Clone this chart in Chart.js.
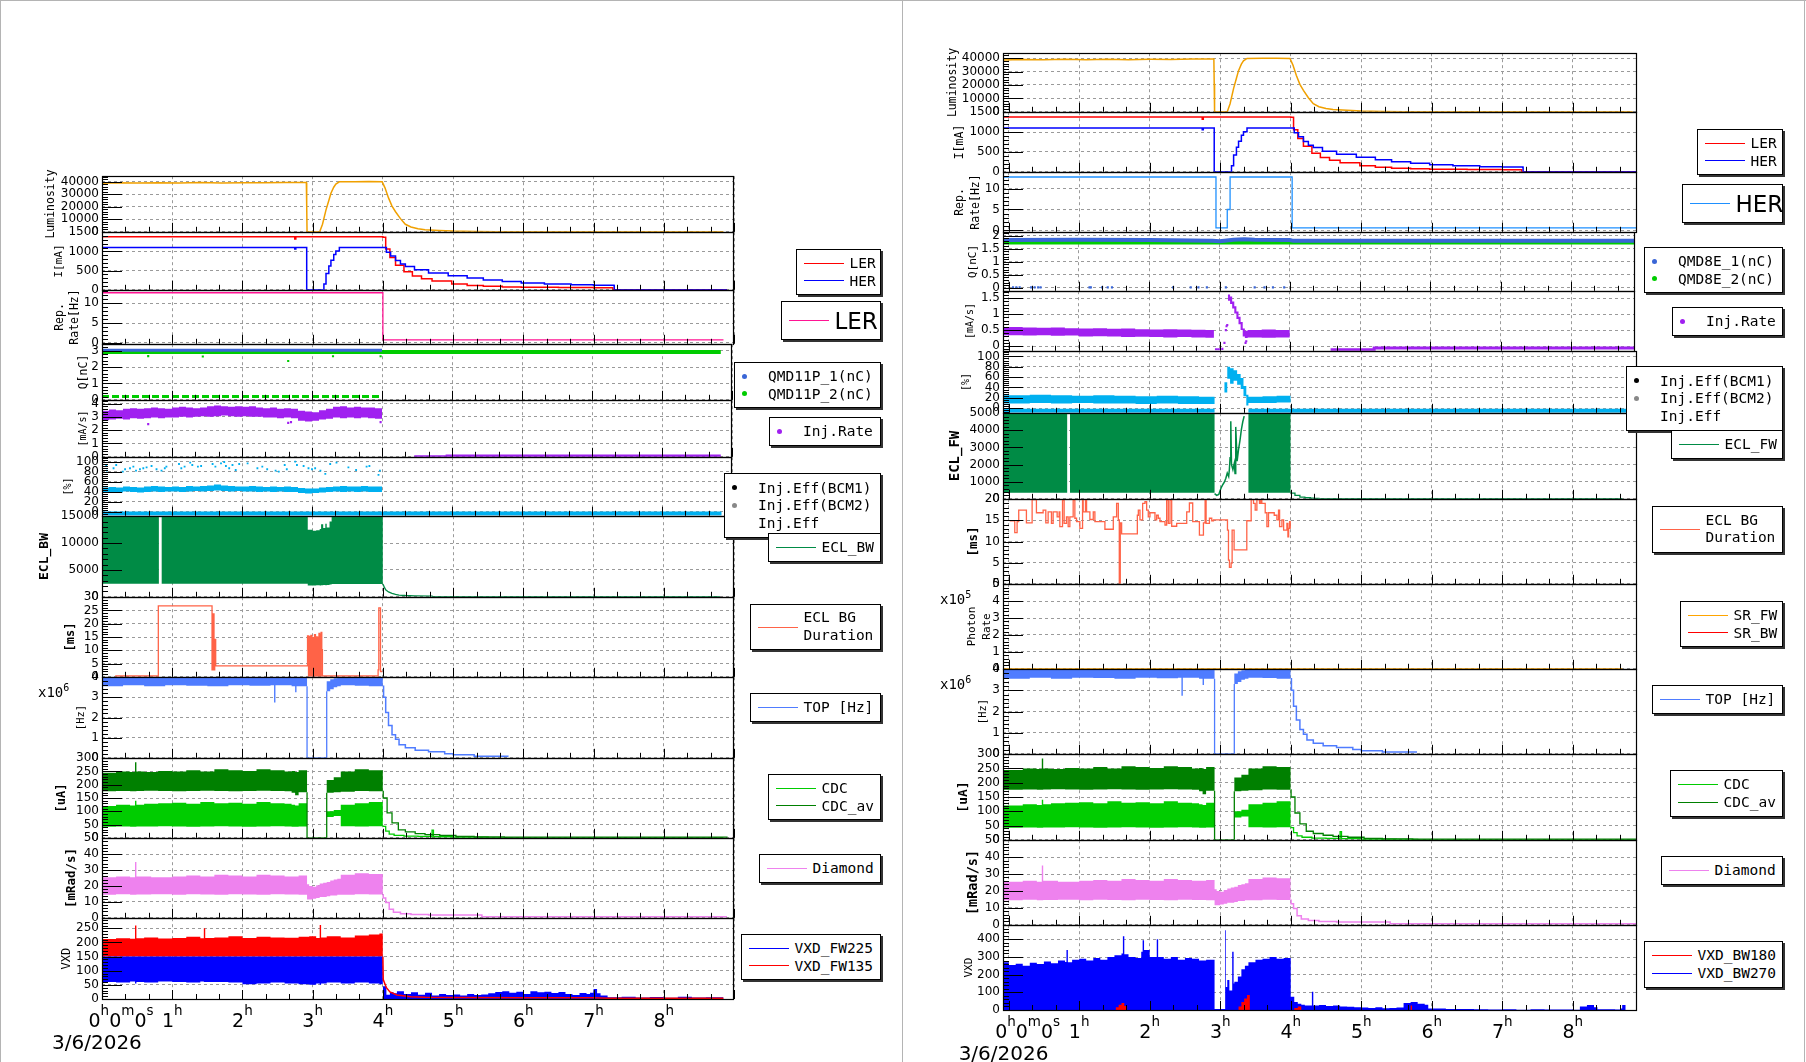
<!DOCTYPE html>
<html>
<head>
<meta charset="utf-8">
<title>LER / HER injection background</title>
<script src="https://cdn.jsdelivr.net/npm/chart.js@4.4.1/dist/chart.umd.min.js"></script>
<style>
  html, body { margin: 0; padding: 0; background: #fff; }
  body { position: relative; width: 1806px; height: 1062px; overflow: hidden; font-family: "DejaVu Sans Mono", monospace; }
  canvas { position: absolute; }
  .lg { position: absolute; box-sizing: border-box; background: #fff; border: 1px solid #000; box-shadow: 2px 2px 0 #333;
        padding: 0 7px; display: flex; flex-direction: column; justify-content: center; font-size: 14.5px; color: #000; z-index: 5; }
  .row { display: flex; align-items: center; justify-content: flex-start; height: 17.7px; white-space: pre; }
  .smp { display: inline-block; flex: none; width: 40px; height: 0; border-top: 1.3px solid; }
  .dot { display: inline-block; flex: none; width: 5px; height: 5px; border-radius: 50%; }
  .mult { position: absolute; font-size: 14px; line-height: 14px; z-index: 5; }
  .mult sup { font-size: 10px; vertical-align: 6px; line-height: 0; }
  .sep { position: absolute; background: #b4b4b4; }
</style>
</head>
<body>
<div class="sep" style="left:0;top:0;width:1806px;height:1px"></div>
<div class="sep" style="left:0;top:0;width:1px;height:1062px"></div>
<div class="sep" style="left:902px;top:0;width:1px;height:1062px"></div>
<div class="sep" style="left:1804px;top:0;width:1px;height:1062px"></div>
<div class="mult" style="left:38px;top:685px">x10<sup>6</sup></div>
<div class="mult" style="left:940px;top:677px">x10<sup>6</sup></div>
<div class="mult" style="left:940px;top:592px">x10<sup>5</sup></div>
<script>
// ---------- axis labels ----------
const hourTicks = [0, 1, 2, 3, 4, 5, 6, 7, 8];
const firstTick = [['0', 'h'], ['0', 'm'], ['0', 's']];
const dateLabel = '3/6/2026';

// common 6-minute grid, 0h .. 4h
const tenths = [0,0.1,0.2,0.3,0.4,0.5,0.6,0.7,0.8,0.9,1.0,1.1,1.2,1.3,1.4,1.5,1.6,1.7,1.8,1.9,2.0,2.1,2.2,2.3,2.4,2.5,2.6,2.7,2.8,2.9,3.0,3.1,3.2,3.3,3.4,3.5,3.6,3.7,3.8,3.9,4.0];

// ---------- shared beam data (both pages) ----------
const lumiT = [-0.08,0.2,0.5,0.8,1.1,1.4,1.7,2.0,2.3,2.6,2.91,2.915,2.92,3.10,3.14,3.19,3.23,3.26,3.30,3.33,3.38,3.6,3.8,3.99,4.03,4.08,4.13,4.18,4.25,4.32,4.40,4.50,4.60,4.80,5.00,5.30,5.60,8.85];
const lumiV = [38600,39000,38800,39100,38900,39200,38900,39100,39000,39300,39300,21000,0,0,6000,17500,25000,30700,35500,38000,39800,39900,40000,39800,35000,27000,20500,16000,10500,6000,3800,2400,1700,1100,600,250,0,0];

const lerT = [-0.08,2.74,2.745,2.76,3.99,4.0,4.04,4.1,4.18,4.3,4.42,4.55,4.7,4.98,5.2,5.43,5.7,5.97,6.5,7.0,7.27,7.275,8.9];
const lerI = [1380,1380,1320,1380,1380,1370,1060,840,640,470,360,290,230,150,115,90,75,64,58,54,52,0,0];
const herT = [-0.08,2.74,2.745,2.76,2.91,2.915,3.12,3.16,3.19,3.23,3.26,3.30,3.33,3.38,3.99,4.05,4.11,4.18,4.25,4.32,4.45,4.65,4.93,5.2,5.43,5.7,5.97,6.3,6.68,7.0,7.29,7.295,8.9];
const herI = [1100,1100,1060,1100,1100,0,0,150,425,620,770,920,1010,1100,1100,980,880,760,670,610,520,440,365,305,255,215,180,150,130,120,114,0,0];

// TOP rate, units of 1e6 Hz
const topT  = [-0.08,0.3,0.6,0.9,1.2,1.5,1.8,2.1,2.4,2.45,2.47,2.7,2.75,2.77,2.92,3.2,3.25,3.3,3.35,3.4,3.6,3.8,4.0];
const topLo = [3.55,3.6,3.55,3.6,3.58,3.55,3.6,3.57,3.6,2.75,3.6,3.55,3.25,3.55,0,3.3,3.4,3.5,3.55,3.6,3.58,3.55,0];
const topHi = [4,4,4,4,4,4,4,4,4,4,4,4,4,4,0,3.8,3.9,3.95,4,4,4,4,0];
const topEdgeT = [2.92,2.92,3.2,3.2];
const topEdgeV = [3.55,0,0,3.3];
const topTailT = [4.0,4.01,4.04,4.08,4.13,4.18,4.23,4.32,4.46,4.65,4.88,5.0,5.3,5.78];
const topTailV = [3.55,3.0,2.25,1.6,1.15,0.92,0.65,0.5,0.38,0.3,0.2,0.15,0.08,0.05];

// CDC currents [uA]
const cdcT  = [-0.08,0.2,0.4,0.47,0.49,0.6,0.8,1.0,1.2,1.4,1.6,1.8,2.0,2.2,2.4,2.6,2.7,2.75,2.8,2.92,3.2,3.3,3.4,3.6,3.8,4.0];
const cavHi = [245,250,248,285,250,248,252,250,255,250,258,255,252,258,255,250,252,248,255,0,218,228,250,258,255,0];
const cavLo = [175,176,175,175,176,177,176,175,176,177,176,175,176,177,176,175,170,160,172,0,170,172,174,176,175,0];
const cdcHi = [120,125,122,140,125,128,130,132,128,135,130,132,128,135,130,128,125,122,130,0,100,105,125,130,135,0];
const cdcLo = [42,43,42,42,43,43,44,43,42,43,44,43,42,43,44,43,42,42,43,0,78,82,44,43,44,0];
const cdcGapT = [2.92,2.92,3.2,3.2];
const cdcGapV = [172,0,0,170];
const cavTailT = [4.0,4.005,4.06,4.13,4.22,4.32,4.46,4.6,4.81,5.04,5.3,5.73,8.9];
const cavTailV = [175,150,94,56,30,22,16,12,9,5,3,2,0];
const cdcTailT = [4.0,4.005,4.04,4.09,4.16,4.3,4.5,4.69,4.7,4.72,5.0,5.5,5.8,8.85];
const cdcTailV = [44,43,25,14,9,6,5,4,29,4,2,1,0,0];

// Diamond [mRad/s]
const diaT  = [-0.08,0.2,0.4,0.47,0.49,0.7,1.0,1.2,1.4,1.6,1.8,2.0,2.2,2.4,2.6,2.8,2.92,2.95,3.0,3.05,3.1,3.15,3.2,3.25,3.3,3.35,3.4,3.6,3.8,4.0];
const diaHi = [25.5,26,25.5,35,26,25.5,26,26.5,26,27,26.5,26,27,26.5,26,26.5,21,20,19.5,20.5,21.5,22,22.5,23.5,24,24.5,27,28,27.5,0];
const diaLo = [14.5,14.8,14.5,14.5,14.6,14.8,14.5,14.8,14.6,14.5,14.8,14.6,14.5,14.8,14.6,14.5,11.5,11.5,12,12.5,13,13,13.5,14,14,14.5,14.5,14.8,14.6,0];
const diaTailT = [4.0,4.005,4.04,4.09,4.15,4.25,4.4,4.65,5.4,5.41,8.9];
const diaTailV = [14.5,12.5,9.6,5.3,3.5,2.6,2.0,1.7,1.7,0.6,0.6];

// ---------- LER page ----------
const repLT = [0,4.0,4.0,8.85];
const repLV = [12.65,12.65,0.75,0.75];

const q1LT = [0,4.0];       const q1LV = [3.03,3.03];
const q2LT = [0,8.84];      const q2LV = [2.93,2.93];
const q2LowT = [0,4.0];     const q2LowV = [0.2,0.2];
const qOutT = [0.66,1.44,2.66,3.30,3.98];
const qOutV = [2.67,2.65,2.37,2.66,2.66];

const rateLlo = [2.75,2.8,2.85,2.8,2.9,2.85,2.9,2.95,2.9,2.95,2.95,3.0,2.95,3.0,3.05,3.0,3.05,3.1,3.05,3.0,3.05,3.0,3.0,2.95,2.95,2.9,2.95,2.9,2.7,2.65,2.7,2.8,2.85,2.95,2.9,2.95,2.9,2.95,2.9,2.85,2.85];
const rateLhi = [3.45,3.55,3.5,3.6,3.65,3.6,3.65,3.7,3.65,3.6,3.7,3.75,3.7,3.65,3.7,3.8,3.85,3.8,3.75,3.8,3.75,3.8,3.7,3.65,3.7,3.6,3.65,3.6,3.45,3.4,3.35,3.5,3.6,3.75,3.8,3.7,3.75,3.7,3.7,3.65,3.65];
const rateLDotT = [0.66,2.66,2.7,3.98];
const rateLDotV = [2.45,2.55,2.6,2.6];
const rateLTailT = [4.46,4.93,4.93,8.84];
const rateLTailV = [0.0,0.0,0.06,0.06];

const effLlo = [38,39,38,40,39,38,39,40,39,40,40,39,40,41,40,41,42,41,40,41,40,40,39,40,39,40,39,39,37,36,37,38,39,40,39,40,39,40,39,39,39];
const effLhi = [48,49,48,50,49,48,50,51,50,49,50,49,51,50,51,52,54,52,51,50,50,51,50,49,50,49,50,49,47,46,46,48,49,50,51,50,50,51,50,50,50];
const effLDotT = [0.061,0.07,0.165,0.203,0.297,0.33,0.40,0.448,0.486,0.542,0.59,0.637,0.708,0.779,0.85,0.897,0.92,1.10,1.133,1.18,1.26,1.29,1.37,1.416,1.58,1.62,1.70,1.746,1.77,1.817,1.864,1.91,1.96,2.08,2.22,2.29,2.36,2.48,2.525,2.61,2.64,2.76,2.785,2.88,2.95,3.0,3.045,3.12,3.19,3.26,3.35,3.52,3.63,3.78,3.82,3.95,3.97];
const effLDotV = [91.4,82.1,86.8,93.4,80,84.8,86.8,90,82.1,84.8,86.8,88.7,91.4,84.8,82.1,86.8,90,95.4,86.8,90,98,93.4,90,91.4,95.4,90,96.7,99.4,91.4,86.8,93.4,83.4,95.4,96.7,86.8,90,84.8,82.1,80,93.4,84.8,100,93.4,91.4,86.8,84.8,86.8,82.1,75.4,95.4,98,88.7,83.4,90,91.4,73.4,82.1];
const effBotLT = [0,8.85];
const effBotLV = [-4,-4];

const eclLT  = [0,0.81,0.85,2.93,3.0,3.05,3.1,3.12,3.15,3.18,3.2,3.24,3.27,4.0];
const eclLhi = [15000,0,15000,12500,12300,12400,12600,13500,12800,13600,12900,14000,15000,0];
const eclLlo = [2450,0,2450,2100,2100,2150,2100,2150,2200,2150,2200,2300,2400,0];
const eclLTailT = [4.0,4.02,4.04,4.08,4.13,4.18,4.23,4.32,4.45,4.7,4.71,8.8];
const eclLTailV = [2400,1800,1290,900,650,450,330,240,190,130,40,40];

const durLT = [0.188,0.802,1.567,1.581,1.595,1.605,1.619,2.927,2.941,2.95,2.96,2.975,2.99,3.007,3.015,3.026,3.04,3.054,3.062,3.073,3.08,3.09,3.1,3.106,3.112,3.12,3.13,3.139,3.932,3.942,3.966,3.99];
const durLV = [0.3,26.7,2.6,23.7,2.6,14.1,4.1,15.4,0.3,15.2,0.3,15.6,0.3,14.8,0.3,15.9,0.3,15.0,0.3,14.9,0.3,16.4,0.3,15.8,0.3,16.7,10.2,0.3,2.6,26.0,2.0,2.0];

const vxdLT   = [0,0.2,0.4,0.47,0.49,0.6,0.8,1.0,1.2,1.4,1.45,1.47,1.6,1.8,2.0,2.2,2.4,2.6,2.8,2.95,3.05,3.1,3.12,3.2,3.4,3.6,3.8,3.95,4.0];
const fw135Hi = [212,215,213,260,215,218,214,216,220,215,250,216,218,222,216,220,218,217,220,222,216,262,218,222,218,225,228,232,150];
const fw225Lo = [60,58,62,55,60,58,62,60,58,62,60,60,60,58,52,55,58,55,52,50,55,50,55,58,55,58,55,52,150];
const fw135TailT = [4.0,4.005,4.05,4.1,4.2,4.4,4.6,5.0,6.0,7.0,7.2,8.85];
const fw135TailV = [150,69,40,25,14,8,6,5,4,4,3,3];
const fw225TailT = [4.0,4.05,4.1,4.15,4.2,4.3,4.4,4.5,4.6,4.7,4.8,4.9,5.0,5.1,5.2,5.3,5.4,5.5,5.6,5.7,5.8,5.9,6.0,6.1,6.2,6.3,6.4,6.5,6.6,6.7,6.8,6.9,6.95,7.0,7.05,7.1,7.2,7.4,7.6,7.8,8.0,8.2,8.4,8.6,8.85];
const fw225TailV = [45,15,25,20,27,18,24,15,22,12,18,14,16,12,18,14,16,20,25,27,22,26,18,27,24,26,21,25,18,14,21,18,22,35,20,12,6,8,5,7,4,8,5,6,0];

// ---------- HER page ----------
const repHT = [-0.08,2.94,2.94,3.1,3.1,3.14,3.14,4.02,4.02,8.91];
const repHV = [12.75,12.75,0.6,0.6,5,5,12.75,12.75,0.6,0.6];

const q1RT = [-0.08,1.0,2.0,2.9,3.0,3.2,3.35,3.5,4.0,4.05,8.91];
const q1RV = [1.83,1.84,1.83,1.8,1.78,1.84,1.86,1.84,1.83,1.8,1.8];
const q2RT = [-0.08,8.91];
const q2RV = [1.74,1.74];
const q1ZeroT = [0.063,0.11,0.157,0.32,0.37,0.42,0.455,1.15,1.17,1.33,1.41,1.47,2.34,2.59,2.70,2.82,3.09,3.5,3.64,3.76,3.92];
const q1ZeroV = [0.02,0.02,0.02,0.02,0.02,0.02,0.02,0.02,0.02,0.02,0.02,0.02,0.02,0.02,0.02,0.02,0.02,0.02,0.02,0.02,0.02];

const rateRT  = [-0.08,0.2,0.4,0.6,0.8,1.0,1.2,1.4,1.6,1.8,2.0,2.2,2.4,2.6,2.8,2.92,3.12,3.15,3.18,3.21,3.24,3.27,3.3,3.33,3.36,3.4,3.6,3.8,4.0];
const rateRlo = [0.34,0.33,0.34,0.32,0.33,0.3,0.31,0.3,0.28,0.29,0.28,0.27,0.28,0.27,0.26,0,1.42,1.32,1.18,1.02,0.85,0.68,0.5,0.3,0.25,0.27,0.26,0.27,0];
const rateRhi = [0.6,0.58,0.57,0.58,0.56,0.55,0.56,0.54,0.55,0.53,0.52,0.53,0.52,0.51,0.5,0,1.62,1.55,1.4,1.25,1.08,0.92,0.75,0.55,0.48,0.5,0.52,0.5,0];
const rateRDotT = [2.95,2.98,3.01,3.04,3.07,3.09,3.1,3.11,3.37,3.38];
const rateRDotV = [-0.1,-0.1,-0.1,-0.09,0.1,0.5,0.62,0.66,0.1,0.15];
const rateRTailT = [4.58,5.2,5.2,8.91];
const rateRTailV = [-0.12,-0.12,-0.06,-0.06];

const effRT  = [-0.08,0.3,0.6,0.9,1.2,1.5,1.8,2.1,2.4,2.7,2.92,3.06,3.1,3.14,3.19,3.24,3.29,3.33,3.37,3.4,3.6,3.8,4.0];
const effRlo = [9,10,9,10,9,9,8,9,8,8,0,30,57,47,53,45,37,23,5,10,10,11,0];
const effRhi = [25,26,25,24,25,24,23,24,23,22,0,50,80,77,73,66,58,43,26,22,23,24,0];
const effBotRT = [-0.08,2.92,2.93,3.4,8.91];
const effBotRV = [-5,-5,null,-5,-5];

const eclRT  = [-0.08,0.83,0.87,2.92,3.4,4.0];
const eclRlo = [350,5000,350,5000,350,5000];
const eclRMidT = [2.92,2.95,2.98,3.0,3.02,3.04,3.06,3.08,3.1,3.12,3.13,3.14,3.15,3.16,3.18,3.2,3.21,3.22,3.24,3.26,3.28,3.3,3.32,3.34];
const eclRMidV = [300,200,250,500,700,850,980,1200,1500,1300,1720,2400,4530,2000,1700,2080,1480,4200,2200,2890,3400,4040,4500,4830];
const eclRTailT = [4.0,4.01,4.06,4.13,4.2,4.28,4.32,4.4,4.51,8.7];
const eclRTailV = [350,330,195,100,60,40,30,15,5,5];

const durRT = [0.016,0.087,0.12,0.143,0.252,0.333,0.394,0.489,0.527,0.56,0.607,0.631,0.688,0.716,0.726,0.764,0.787,0.82,0.844,0.868,0.915,0.939,0.963,1.01,1.048,1.057,1.09,1.105,1.152,1.2,1.223,1.365,1.484,1.531,1.555,1.569,1.583,1.602,1.825,1.839,1.862,1.9,1.933,1.957,1.98,2.004,2.075,2.099,2.122,2.146,2.217,2.241,2.264,2.288,2.312,2.383,2.525,2.563,2.61,2.705,2.762,2.786,2.8,2.847,2.88,2.904,3.103,3.117,3.131,3.155,3.169,3.197,3.377,3.439,3.472,3.496,3.52,3.557,3.576,3.59,3.638,3.662,3.685,3.766,3.804,3.827,3.842,3.875,3.899,3.946,3.96,3.97,3.984,3.993,4.0];
const durRV = [14.9,12.1,14.7,17.4,14.4,19.9,16.8,17.4,14.4,17.0,14.3,17.0,15.8,17.0,13.5,19.8,14.3,15.8,13.5,15.8,19.8,15.5,14.7,13.1,19.8,17.0,19.8,17.0,15.2,17.0,14.7,12.9,15.8,19.0,15.1,0,14.4,11.8,16.2,17.4,15.1,19.0,19.4,17.4,15.8,16.8,15.1,16.2,15.5,14.7,13.9,19.8,14.3,19.8,13.6,14.3,17.0,19.1,14.7,11.5,14.4,19.9,14.3,15.5,14.9,15.1,12.7,5.6,3.9,4.9,12.7,8.0,14.9,19.9,19.0,17.4,19.9,19.0,19.9,19.0,16.8,13.5,16.8,16.2,15.1,17.4,13.5,15.1,12.7,14.3,11.1,13.1,14.7,13.1,13.1];

const srFwT = [-0.08,8.7];
const srFwV = [0,0];

const bw270T = [-0.08,0.0,0.1,0.2,0.3,0.4,0.5,0.6,0.7,0.8,0.82,0.84,0.9,1.0,1.1,1.2,1.3,1.4,1.5,1.6,1.62,1.64,1.7,1.8,1.88,1.9,1.92,2.0,2.1,2.12,2.2,2.3,2.4,2.5,2.6,2.7,2.8,2.92,3.07,3.08,3.1,3.13,3.17,3.19,3.2,3.25,3.3,3.35,3.4,3.5,3.6,3.7,3.8,3.9,4.0,4.05,4.1,4.15,4.2,4.3,4.32,4.4,4.5,4.6,4.7,4.8,4.9,5.0,5.1,5.2,5.3,5.4,5.5,5.6,5.7,5.8,5.9,5.95,6.2,6.4,6.6,6.8,7.0,7.2,7.4,7.6,7.8,8.0,8.1,8.2,8.3,8.35,8.6,8.68,8.7,8.75];
const bw270V = [270,255,262,250,268,260,275,265,280,272,339,270,285,290,280,295,285,300,310,320,418,315,300,295,330,395,340,300,400,300,290,300,285,295,290,280,285,5,452,130,170,110,330,150,160,190,230,250,270,285,290,300,290,295,75,45,35,30,25,103,25,28,22,25,20,18,15,14,12,16,10,12,14,40,45,35,30,8,6,5,4,3,4,2,4,3,3,2,20,28,15,4,3,8,28,0];
const bw180T = [-0.08,1.52,1.56,1.6,1.64,1.68,3.26,3.3,3.34,3.38,3.42,4.05,4.1,4.15,5.7,5.72,8.75];
const bw180V = [0,15,30,40,22,0,20,45,65,85,0,12,20,0,25,0,0];

// ---------- series colours ----------
const COL = {
  lumi: '#f0a000', ler: '#ff0000', her: '#0000ff', repL: '#ff1493', repH: '#1e90ff',
  q1: '#3a66d6', q2: '#00cc00', rate: '#a020f0', eff: '#00b0f0', bcm1: '#000000', bcm2: '#888888',
  ecl: '#008b45', dur: '#ff6347', top: '#4f7cff', cdc: '#00cc00', cdcAv: '#008000',
  dia: '#ee82ee', vxdB: '#0000ff', vxdR: '#ff0000', srF: '#ffa500', srB: '#ff0000'
};
const NONE = 'rgba(0,0,0,0)';

function pts(t, v) { return t.map((x, i) => ({x: x, y: v[i]})); }
function line(t, v, color, width, extra) {
  return Object.assign({data: pts(t, v), borderColor: color, borderWidth: width, pointRadius: 0, fill: false}, extra || {});
}
function band(t, lo, hi, color) {
  return [
    {data: pts(t, lo), borderColor: NONE, borderWidth: 0, pointRadius: 0, fill: false, stepped: true},
    {data: pts(t, hi), borderColor: NONE, borderWidth: 0, pointRadius: 0, fill: '-1', backgroundColor: color, stepped: true}
  ];
}
function edge(t, v, color, target) {
  return {data: pts(t, v), borderColor: NONE, borderWidth: 0, pointRadius: 0, fill: target, backgroundColor: color, stepped: true};
}
function dots(t, v, color, r) {
  return {data: pts(t, v), showLine: false, pointRadius: r, pointStyle: 'rect', pointBackgroundColor: color, pointBorderWidth: 0, borderColor: color};
}
const ST = {stepped: true};

// ---------- page layout ----------
const pageL = {left: 102, right: 734, xMin: 0, xMax: 9};
const pageR = {left: 1003, right: 1637, xMin: -0.08, xMax: 8.91};

const plotsL = [
  {top: 176, bottom: 232, min: 0, max: 44300, step: 10000, title: 'Luminosity', tx: 50.7, fs: 11.5,
   ds: [line(lumiT, lumiV, COL.lumi, 1.5)]},
  {top: 232, bottom: 290, min: 0, max: 1500, step: 500, title: 'I[mA]', tx: 58.7, fs: 11,
   ds: [line(lerT, lerI, COL.ler, 1.5, ST), line(herT, herI, COL.her, 1.5, ST)]},
  {top: 290, bottom: 344, min: -0.25, max: 13.3, step: 5, title: ['Rep.', 'Rate[Hz]'], tx: 60.3, fs: 11.5, lh: 1.24,
   ds: [line(repLT, repLV, COL.repL, 1.3)]},
  {top: 344, bottom: 400, min: 0, max: 3.4, step: 1, title: 'Q[nC]', tx: 83.7, fs: 11.5,
   ds: [line(q2LowT, q2LowV, COL.q2, 3, {borderDash: [7, 3]}), line(q2LT, q2LV, COL.q2, 4), line(q1LT, q1LV, COL.q1, 3), dots(qOutT, qOutV, COL.q2, 1.5)]},
  {top: 400, bottom: 457, min: 0, max: 4.25, step: 1, title: '[mA/s]', tx: 83.7, fs: 10,
   ds: [...band(tenths, rateLlo, rateLhi, COL.rate), dots(rateLDotT, rateLDotV, COL.rate, 1.5), line(rateLTailT, rateLTailV, COL.rate, 3)]},
  {top: 457, bottom: 516, min: -8.6, max: 109, step: 20, title: '[%]', tx: 68.8, fs: 10,
   ds: [...band(tenths, effLlo, effLhi, COL.eff), dots(effLDotT, effLDotV, COL.eff, 1.3), line(effBotLT, effBotLV, COL.eff, 4)]},
  {top: 516, bottom: 597, min: 0, max: 15000, step: 5000, title: 'ECL_BW', tx: 44.7, fs: 13, bold: true,
   ds: [...band(eclLT, eclLlo, eclLhi, COL.ecl), line(eclLTailT, eclLTailV, COL.ecl, 1.3)]},
  {top: 597, bottom: 677, min: 0, max: 30, step: 5, title: '[ms]', tx: 71.3, fs: 12, bold: true,
   ds: [line(durLT, durLV, COL.dur, 1.3, ST)]},
  {top: 677, bottom: 758, min: 0, max: 4, step: 1, title: '[Hz]', tx: 81.7, fs: 10.5,
   ds: [...band(topT, topLo, topHi, COL.top), line(topEdgeT, topEdgeV, COL.top, 1.3), line(topTailT, topTailV, COL.top, 1.5, ST)]},
  {top: 758, bottom: 838, min: 0, max: 300, step: 50, title: '[uA]', tx: 62, fs: 12, bold: true,
   ds: [...band(cdcT, cdcLo, cdcHi, COL.cdc), ...band(cdcT, cavLo, cavHi, COL.cdcAv), line(cdcGapT, cdcGapV, COL.cdcAv, 1.3),
        line(cdcTailT, cdcTailV, COL.cdc, 1.3, ST), line(cavTailT, cavTailV, COL.cdcAv, 1.3, ST)]},
  {top: 838, bottom: 918, min: 0, max: 50, step: 10, title: '[mRad/s]', tx: 71.7, fs: 12.5, bold: true,
   ds: [...band(diaT, diaLo, diaHi, COL.dia), line(diaTailT, diaTailV, COL.dia, 1.5, ST)]},
  {top: 918, bottom: 999, min: 0, max: 286, step: 50, title: 'VXD', tx: 67, fs: 12,
   ds: [edge(vxdLT, fw135Hi, COL.vxdR, {value: 150}), edge(vxdLT, fw225Lo, COL.vxdB, {value: 150}),
        edge(fw225TailT, fw225TailV, COL.vxdB, 'origin'), line(fw135TailT, fw135TailV, COL.vxdR, 1.5)]}
];

const plotsR = [
  {top: 53, bottom: 112, min: 0, max: 43700, step: 10000, title: 'Luminosity', tx: 953.3, fs: 11.5,
   ds: [line(lumiT, lumiV, COL.lumi, 1.5)]},
  {top: 112, bottom: 172, min: 0, max: 1500, step: 500, title: 'I[mA]', tx: 960.5, fs: 11.5,
   ds: [line(lerT, lerI, COL.ler, 1.5, ST), line(herT, herI, COL.her, 1.5, ST)]},
  {top: 172, bottom: 232, min: -0.33, max: 13.9, step: 5, title: ['Rep.', 'Rate[Hz]'], tx: 960.5, fs: 11.5, lh: 1.37,
   ds: [line(repHT, repHV, COL.repH, 1.3)]},
  {top: 232, bottom: 291, min: -0.11, max: 2.13, step: 0.5, title: 'Q[nC]', tx: 973.3, fs: 11,
   ds: [line(q2RT, q2RV, COL.q2, 4), line(q1RT, q1RV, COL.q1, 4), dots(q1ZeroT, q1ZeroV, COL.q1, 1.5)]},
  {top: 291, bottom: 351, min: -0.15, max: 1.72, step: 0.5, title: '[mA/s]', tx: 970, fs: 10,
   ds: [...band(rateRT, rateRlo, rateRhi, COL.rate), dots(rateRDotT, rateRDotV, COL.rate, 1.5), line(rateRTailT, rateRTailV, COL.rate, 3)]},
  {top: 351, bottom: 413, min: -9, max: 110, step: 20, title: '[%]', tx: 966.7, fs: 10,
   ds: [...band(effRT, effRlo, effRhi, COL.eff), line(effBotRT, effBotRV, COL.eff, 4, {spanGaps: false})]},
  {top: 413, bottom: 499, min: 0, max: 5000, step: 1000, title: 'ECL_FW', tx: 955, fs: 14, bold: true,
   ds: [edge(eclRT, eclRlo, COL.ecl, 'end'), line(eclRMidT, eclRMidV, COL.ecl, 1.5), line(eclRTailT, eclRTailV, COL.ecl, 1.3, ST)]},
  {top: 499, bottom: 584, min: 0, max: 20, step: 5, title: '[ms]', tx: 973.8, fs: 12.5, bold: true,
   ds: [line(durRT, durRV, COL.dur, 1.3, ST)]},
  {top: 584, bottom: 669, min: 0, max: 5, step: 1, title: ['Photon', 'Rate'], tx: 971.7, fs: 11, lh: 1.36,
   ds: [line(srFwT, srFwV, COL.srF, 1.5)]},
  {top: 669, bottom: 754, min: 0, max: 4, step: 1, title: '[Hz]', tx: 983.3, fs: 10.5,
   ds: [...band(topT, topLo, topHi, COL.top), line(topEdgeT, topEdgeV, COL.top, 1.3), line(topTailT, topTailV, COL.top, 1.5, ST)]},
  {top: 754, bottom: 840, min: 0, max: 300, step: 50, title: '[uA]', tx: 964, fs: 13, bold: true,
   ds: [...band(cdcT, cdcLo, cdcHi, COL.cdc), ...band(cdcT, cavLo, cavHi, COL.cdcAv), line(cdcGapT, cdcGapV, COL.cdcAv, 1.3),
        line(cdcTailT, cdcTailV, COL.cdc, 1.3, ST), line(cavTailT, cavTailV, COL.cdcAv, 1.3, ST)]},
  {top: 840, bottom: 925, min: 0, max: 50, step: 10, title: '[mRad/s]', tx: 973, fs: 13.5, bold: true,
   ds: [...band(diaT, diaLo, diaHi, COL.dia), line(diaTailT, diaTailV, COL.dia, 1.5, ST)]},
  {top: 925, bottom: 1010, min: 0, max: 480, step: 100, title: 'VXD', tx: 969.3, fs: 11,
   ds: [edge(bw270T, bw270V, COL.vxdB, 'origin'), edge(bw180T, bw180V, COL.vxdR, 'origin')]}
];

// ---------- ROOT-like frame with inward ticks ----------
const rootFrame = {
  id: 'rootFrame',
  afterDraw(chart) {
    const {ctx, chartArea: a, scales: {x, y}} = chart;
    const sub = y.options.ticks.stepSize / 5;
    ctx.save();
    ctx.beginPath();
    ctx.strokeStyle = '#000';
    ctx.lineWidth = 1;
    for (let k = Math.ceil(y.min / sub - 1e-6); k * sub <= y.max + 1e-9; k++) {
      const py = Math.round(y.getPixelForValue(k * sub)) + 0.5;
      ctx.moveTo(a.left, py);
      ctx.lineTo(a.left + (k % 5 === 0 ? 20 : 6), py);
    }
    for (let k = Math.ceil(x.min * 3 - 1e-6); k / 3 <= x.max + 1e-9; k++) {
      const px = Math.round(x.getPixelForValue(k / 3)) + 0.5;
      ctx.moveTo(px, a.bottom);
      ctx.lineTo(px, a.bottom - (k % 3 === 0 ? 9 : 5));
    }
    ctx.stroke();
    ctx.lineWidth = 1.2;
    ctx.strokeRect(Math.round(a.left) + 0.5, Math.round(a.top) + 0.5, Math.round(a.width) - 1, Math.round(a.height));
    ctx.restore();
  }
};

// time labels with superscripts under the last pad
const timeAxis = {
  id: 'timeAxis',
  afterDraw(chart, args, o) {
    if (!o.show) return;
    const {ctx, chartArea: a, scales: {x}} = chart;
    const big = '19px "DejaVu Sans"', small = '13.5px "DejaVu Sans"';
    ctx.save();
    ctx.fillStyle = '#000';
    ctx.textAlign = 'left';
    ctx.textBaseline = 'alphabetic';
    hourTicks.forEach(h => {
      const parts = h === 0 ? firstTick : [[String(h), 'h']];
      let w = 0;
      parts.forEach(p => { ctx.font = big; w += ctx.measureText(p[0]).width; ctx.font = small; w += ctx.measureText(p[1]).width; });
      const px = x.getPixelForValue(h);
      let cx = h === 0 ? px - 13.5 : px - w / 2;
      parts.forEach(p => {
        ctx.font = big; ctx.fillText(p[0], cx, a.bottom + 28); cx += ctx.measureText(p[0]).width;
        ctx.font = small; ctx.fillText(p[1], cx, a.bottom + 16); cx += ctx.measureText(p[1]).width;
      });
    });
    ctx.font = '20px "DejaVu Sans"';
    ctx.fillText(dateLabel, x.getPixelForValue(0) - 50, a.bottom + 50);
    ctx.restore();
  }
};

function makePlot(page, p, isLast) {
  const padB = isLast ? 62 : 10;
  const w = page.right - page.left + 102;
  const h = p.bottom - p.top + 10 + padB;
  const cLeft = page.left - 100;
  const c = document.createElement('canvas');
  c.width = w; c.height = h;
  c.style.left = cLeft + 'px'; c.style.top = (p.top - 10) + 'px';
  c.style.width = w + 'px'; c.style.height = h + 'px';
  document.body.appendChild(c);
  p.ds.forEach((d, i, arr) => { d.order = arr.length - i; });
  const lh = p.lh || 1.2;
  new Chart(c, {
    type: 'line',
    data: {datasets: p.ds},
    options: {
      responsive: false, animation: false, devicePixelRatio: 1,
      layout: {padding: {left: 0, right: 2, top: 10, bottom: padB}},
      elements: {line: {tension: 0}},
      plugins: {legend: {display: false}, tooltip: {enabled: false}, timeAxis: {show: isLast}},
      scales: {
        x: {
          type: 'linear', min: page.xMin, max: page.xMax,
          ticks: {display: false, stepSize: 1, includeBounds: false},
          grid: {color: '#9a9a9a', lineWidth: 1, drawTicks: false},
          border: {display: false, dash: [3, 3]},
          afterFit(s) { s.height = 0; }
        },
        y: {
          min: p.min, max: p.max,
          ticks: {stepSize: p.step, autoSkip: false, padding: 3, color: '#000',
                  font: {family: 'DejaVu Sans', size: 12}, callback: v => String(+v.toFixed(2))},
          grid: {color: '#9a9a9a', lineWidth: 1, drawTicks: false},
          border: {display: false, dash: [3, 3]},
          title: {display: true, text: p.title, color: '#000',
                  font: {family: 'DejaVu Sans Mono', size: p.fs, weight: p.bold ? 'bold' : 'normal', lineHeight: lh},
                  padding: {top: p.tx - cLeft - p.fs * lh / 2, bottom: 0}},
          // labelled ticks at whole multiples of the step only
          afterBuildTicks(s) {
            const out = [];
            for (let k = Math.ceil(p.min / p.step - 1e-9); k * p.step <= p.max + 1e-9; k++) out.push({value: +(k * p.step).toFixed(4)});
            s.ticks = out;
          },
          afterFit(s) { s.width = 100; }
        }
      }
    },
    plugins: [rootFrame, timeAxis]
  });
}

plotsL.forEach((p, i) => makePlot(pageL, p, i === plotsL.length - 1));
plotsR.forEach((p, i) => makePlot(pageR, p, i === plotsR.length - 1));

// ---------- legends ----------
const legendL = [
  {box: [796, 249, 85, 46], rows: [['line', COL.ler, 'LER'], ['line', COL.her, 'HER']]},
  {box: [781, 301, 100, 39], rows: [['big', COL.repL, 'LER']]},
  {box: [734, 362, 147, 46], rows: [['dot', COL.q1, 'QMD11P_1(nC)'], ['dot', COL.q2, 'QMD11P_2(nC)']]},
  {box: [769, 417, 112, 28.5], rows: [['dot', COL.rate, 'Inj.Rate']]},
  {box: [724, 473, 157, 64.5], rows: [['dot', COL.bcm1, 'Inj.Eff(BCM1)'], ['dot', COL.bcm2, 'Inj.Eff(BCM2)'], ['none', '', 'Inj.Eff']]},
  {box: [768, 533, 113, 28.5], rows: [['line', COL.ecl, 'ECL_BW']]},
  {box: [750, 604, 131, 46], rows: [['two', COL.dur, 'ECL BG\nDuration']]},
  {box: [750, 693, 131, 28.5], rows: [['line', COL.top, 'TOP [Hz]']]},
  {box: [768, 774, 113, 46], rows: [['line', COL.cdc, 'CDC'], ['line', COL.cdcAv, 'CDC_av']]},
  {box: [759, 854, 122, 28.5], rows: [['line', COL.dia, 'Diamond']]},
  {box: [741, 934, 140, 46], rows: [['line', COL.vxdB, 'VXD_FW225'], ['line', COL.vxdR, 'VXD_FW135']]}
];
const legendR = [
  {box: [1697, 129, 86, 46], rows: [['line', COL.ler, 'LER'], ['line', COL.her, 'HER']]},
  {box: [1682, 184, 101, 39], rows: [['big', COL.repH, 'HER']]},
  {box: [1644, 247, 139, 46], rows: [['dot', COL.q1, 'QMD8E_1(nC)'], ['dot', COL.q2, 'QMD8E_2(nC)']]},
  {box: [1672, 307, 111, 28.5], rows: [['dot', COL.rate, 'Inj.Rate']]},
  {box: [1626, 366, 157, 64.5], rows: [['dot', COL.bcm1, 'Inj.Eff(BCM1)'], ['dot', COL.bcm2, 'Inj.Eff(BCM2)'], ['none', '', 'Inj.Eff']]},
  {box: [1671, 430, 112, 28.5], rows: [['line', COL.ecl, 'ECL_FW']]},
  {box: [1652, 506, 131, 46.5], rows: [['two', COL.dur, 'ECL BG\nDuration']]},
  {box: [1680, 601, 103, 46], rows: [['line', COL.srF, 'SR_FW'], ['line', COL.srB, 'SR_BW']]},
  {box: [1652, 685, 131, 28.5], rows: [['line', COL.top, 'TOP [Hz]']]},
  {box: [1670, 770, 113, 46.5], rows: [['line', COL.cdc, 'CDC'], ['line', COL.cdcAv, 'CDC_av']]},
  {box: [1661, 856, 122, 28.5], rows: [['line', COL.dia, 'Diamond']]},
  {box: [1644, 941, 139, 46.5], rows: [['line', COL.vxdR, 'VXD_BW180'], ['line', COL.vxdB, 'VXD_BW270']]}
];

function addLegend(spec) {
  const box = document.createElement('div');
  box.className = 'lg';
  const [l, t, w, h] = spec.box;
  Object.assign(box.style, {left: l + 'px', top: t + 'px', width: w + 'px', height: h + 'px'});
  spec.rows.forEach(([kind, color, text]) => {
    const row = document.createElement('div');
    row.className = 'row';
    const mark = document.createElement('span');
    const label = document.createElement('span');
    label.textContent = text;
    if (kind === 'dot' || kind === 'none') {
      mark.className = 'dot';
      if (color) mark.style.background = color;
      label.style.marginLeft = '21px';
    } else {
      mark.className = 'smp';
      mark.style.borderTopColor = color;
      label.style.marginLeft = '5.5px';
    }
    if (kind === 'big') { label.style.font = '23px "DejaVu Sans"'; row.style.height = 'auto'; }
    if (kind === 'two') { row.style.height = 'auto'; label.style.lineHeight = '17.7px'; }
    row.append(mark, label);
    box.appendChild(row);
  });
  document.body.appendChild(box);
}
legendL.forEach(addLegend);
legendR.forEach(addLegend);
</script>
</body>
</html>
